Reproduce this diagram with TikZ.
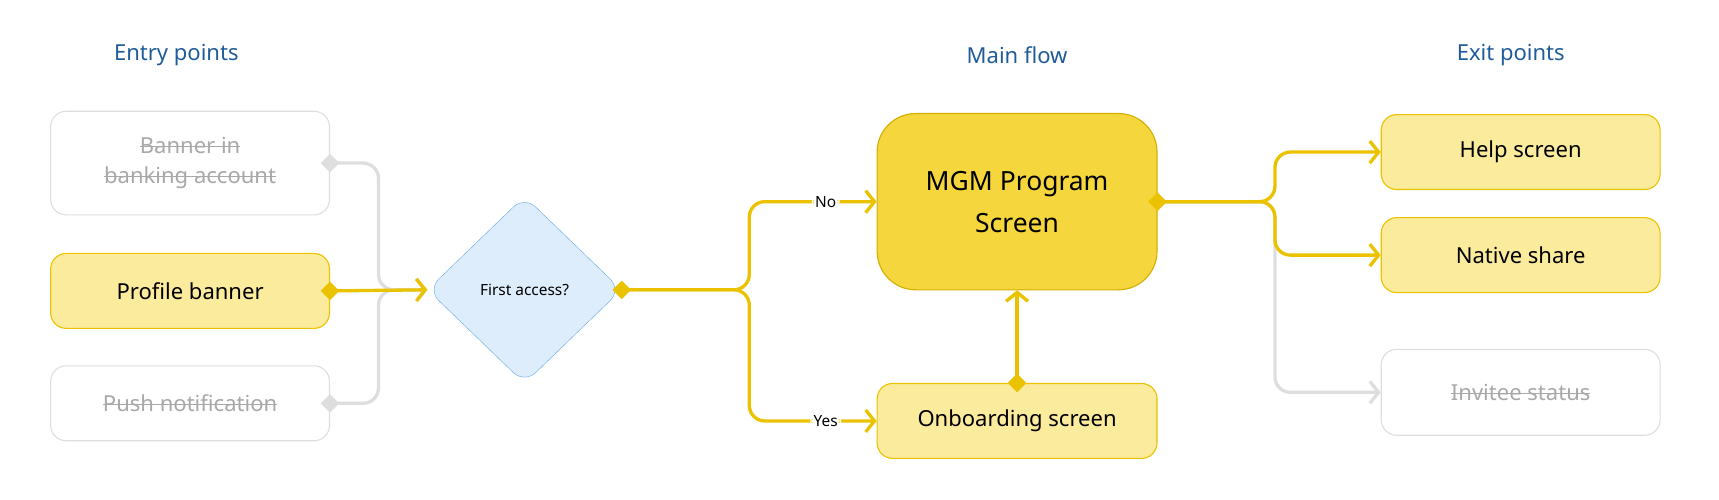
\documentclass[tikz,border=0pt]{standalone}
\usepackage{fontspec}
\setmainfont{Noto Sans}
\usetikzlibrary{arrows.meta,shapes.geometric}
\definecolor{titleblue}{HTML}{1F5C99}
\definecolor{softyellow}{HTML}{FBEB9C}
\definecolor{strongyellow}{HTML}{F5D63D}
\definecolor{lineyellow}{HTML}{EBC200}
\definecolor{palegray}{HTML}{DEDEDE}
\definecolor{textgray}{HTML}{A8A8A8}
\definecolor{paleblue}{HTML}{DEEDFC}
\definecolor{edgeblue}{HTML}{6AAEE8}
\newlength\strkw
\newcommand\strk[1]{\settowidth\strkw{#1}\rlap{#1}\rule[0.3em]{\strkw}{0.9pt}}
\tikzset{
  title/.style={text=titleblue,font=\fontsize{20}{24}\selectfont},
  box/.style={draw,rounded corners=14pt,minimum width=253pt,minimum height=68pt,
    line width=1pt,align=center,font=\fontsize{20}{28}\selectfont},
  active/.style={box,fill=softyellow,draw=lineyellow},
  muted/.style={box,draw=palegray,text=textgray},
  pin/.style={diamond,fill=#1,inner sep=0pt,minimum size=17pt},
  flow/.style={draw=lineyellow,line width=3pt,rounded corners=14pt},
  faded/.style={draw=palegray,line width=3pt,rounded corners=14pt},
  tip/.style={-{Straight Barb[length=8pt,width=20pt,line width=3pt]}},
  tag/.style={fill=white,inner sep=3pt,font=\fontsize{14}{16}\selectfont}
}
\begin{document}
\begin{tikzpicture}[x=1pt,y=-1pt]
  \useasboundingbox (0,0) rectangle (1560,453);

  % Titles
  \node[title] (t1) at (160,50) {Entry points};
  \node[title] (t2) at (923,50) {Main flow};
  \node[title] (t3) at (1371,50) {Exit points};

  % Entry points
  \node[muted,minimum height=94pt] (banner) at (172.5,148) {\strk{Banner in}\\\strk{banking account}};
  \node[active] (profile) at (172.5,264) {Profile banner};
  \node[muted] (push) at (172.5,366) {\strk{Push notification}};

  % Decision
  \node[diamond,aspect=1.03,minimum width=176pt,minimum height=170pt,inner sep=0pt,
    rounded corners=14pt,fill=paleblue,draw=edgeblue,
    font=\fontsize{14}{16}\selectfont] (first) at (476,263) {First access?};

  % Main flow
  \node[active,fill=strongyellow,draw=lineyellow!90!black,minimum width=254pt,minimum height=160pt,
    rounded corners=35pt,font=\fontsize{24}{38}\selectfont] (mgm) at (923,183) {MGM Program\\Screen};
  \node[active,minimum width=254pt] (onboard) at (923,382) {Onboarding screen};

  % Exit points
  \node[active] (help) at (1380,138) {Help screen};
  \node[active] (share) at (1380,231.5) {Native share};
  \node[muted,minimum height=78pt] (invitee) at (1380,356) {\strk{Invitee status}};

  % Connectors
  \coordinate (fork) at (680,263);
  \coordinate (split) at (1157,183);
  \draw[faded,tip] (banner.east) -- ++(44,0) |- (first.west);
  \draw[faded,tip] (push.east) -- ++(44,0) |- (first.west);
  \draw[flow,tip] (profile.east) -- (first.west);
  \draw[flow,tip] (first.east) -- (fork) |- node[tag,pos=0.8] (no) {No} (mgm.west);
  \draw[flow,tip] (first.east) -- (fork) |- node[tag,pos=0.8] (yes) {Yes} (onboard.west);
  \draw[flow,tip] (onboard.north) -- (mgm.south);
  \draw[faded,tip] (mgm.east) -- (split) |- (invitee.west);
  \draw[flow,tip] (mgm.east) -- (split) |- (help.west);
  \draw[flow,tip] (mgm.east) -- (split) |- (share.west);

  % Markers
  \node[pin=palegray] (p1) at (banner.east) {};
  \node[pin=palegray] (p2) at (push.east) {};
  \node[pin=lineyellow] (p3) at (profile.east) {};
  \node[pin=lineyellow] (p4) at (first.east) {};
  \node[pin=lineyellow] (p5) at (onboard.north) {};
  \node[pin=lineyellow] (p6) at (mgm.east) {};
\end{tikzpicture}
\end{document}
